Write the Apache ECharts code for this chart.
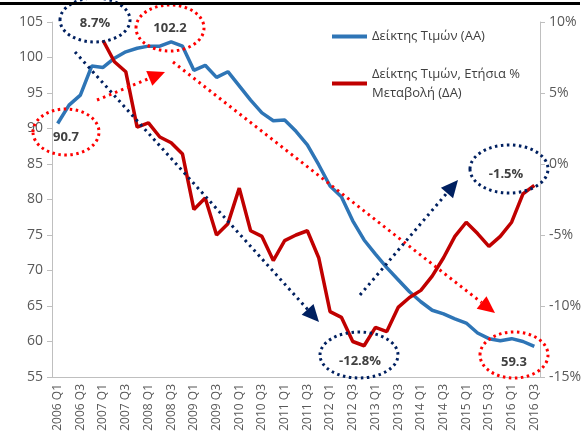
<!DOCTYPE html>
<html><head><meta charset="utf-8">
<script src="https://cdn.jsdelivr.net/npm/echarts@6/dist/echarts.min.js"></script>
<style>html,body{margin:0;padding:0;background:#fff}#c{width:587px;height:441px}</style>
</head><body><div id="c"></div>
<script>
const categories = [
  '2006 Q1','2006 Q2','2006 Q3','2006 Q4','2007 Q1','2007 Q2','2007 Q3','2007 Q4',
  '2008 Q1','2008 Q2','2008 Q3','2008 Q4','2009 Q1','2009 Q2','2009 Q3','2009 Q4',
  '2010 Q1','2010 Q2','2010 Q3','2010 Q4','2011 Q1','2011 Q2','2011 Q3','2011 Q4',
  '2012 Q1','2012 Q2','2012 Q3','2012 Q4','2013 Q1','2013 Q2','2013 Q3','2013 Q4',
  '2014 Q1','2014 Q2','2014 Q3','2014 Q4','2015 Q1','2015 Q2','2015 Q3','2015 Q4',
  '2016 Q1','2016 Q2','2016 Q3'
];
const priceIndex = [
  90.7, 93.3, 94.7, 98.8, 98.6, 99.9, 100.8, 101.3, 101.6, 101.6, 102.2, 101.6,
  98.2, 98.9, 97.2, 98.0, 96.0, 94.0, 92.2, 91.1, 91.2, 89.6, 87.7, 84.9,
  81.9, 80.4, 77.0, 74.3, 72.3, 70.4, 68.7, 67.0, 65.6, 64.4, 63.9, 63.2,
  62.6, 61.2, 60.4, 60.1, 60.4, 60.0, 59.3
];
const annualChange = [
  null, null, null, null,
  8.7, 7.2, 6.5, 2.6, 2.9, 1.9, 1.5, 0.7, -3.2, -2.4, -5.0, -4.2,
  -1.7, -4.7, -5.1, -6.8, -5.4, -5.0, -4.7, -6.6, -10.4, -10.8, -12.5, -12.8,
  -11.5, -11.8, -10.1, -9.4, -8.9, -7.9, -6.6, -5.1, -4.1, -4.9, -5.8, -5.1,
  -4.1, -2.1, -1.5
];
const leftTicks = {min: 55, max: 105, interval: 5};
const rightTicks = {min: -15, max: 10, interval: 5};
const NAME1 = 'Δείκτης Τιμών (ΑΑ)';
const NAME2 = 'Δείκτης Τιμών, Ετήσια % Μεταβολή (ΔΑ)';

const FONT = '"Open Sans", "Noto Sans", sans-serif';
const RED = '#FF0000', NAVY = '#002060', TXT = '#404040';

function ellipse(cx, cy, rx, ry, color) {
  return {type: 'ellipse', z: 50, shape: {cx, cy, rx, ry},
    style: {fill: 'none', stroke: color, lineWidth: 3, lineDash: [2.5, 3.5]}};
}
function label(x, y, text) {
  return {type: 'text', z: 51, x, y,
    style: {text, fill: TXT, font: 'bold 13px ' + FONT, align: 'center', verticalAlign: 'middle'}};
}
function arrow(x1, y1, x2, y2, color) {
  const dx = x2 - x1, dy = y2 - y1, L = Math.hypot(dx, dy), ux = dx / L, uy = dy / L;
  const hl = 17, hw = 8, bx = x2 - ux * hl, by = y2 - uy * hl, px = -uy, py = ux;
  return [
    {type: 'line', z: 49, shape: {x1, y1, x2: bx, y2: by},
      style: {stroke: color, lineWidth: 3, lineDash: [2.5, 4]}},
    {type: 'polygon', z: 49, shape: {points: [[x2, y2], [bx + px * hw, by + py * hw], [bx - px * hw, by - py * hw]]},
      style: {fill: color}}
  ];
}
const valid = annualChange.filter(v => v !== null);
const graphics = [
  {type: 'rect', z: 60, shape: {x: 0, y: 2, width: 580, height: 3}, style: {fill: '#000'}},
  ...arrow(75, 52, 319, 322, NAVY),
  ...arrow(97, 100, 165, 72, RED),
  ...arrow(173, 62, 495, 313, RED),
  ...arrow(360, 295, 458, 180, NAVY),
  ellipse(66, 132, 33, 23, RED), label(66, 137, priceIndex[0].toFixed(1)),
  ellipse(95, 20, 35, 22, NAVY), label(95, 23, valid[0].toFixed(1) + '%'),
  ellipse(170, 28, 34, 23, RED), label(170, 28, Math.max(...priceIndex).toFixed(1)),
  ellipse(509, 169, 39, 24, NAVY), label(506, 174, valid[valid.length - 1].toFixed(1) + '%'),
  ellipse(359, 355, 39, 23, NAVY), label(360, 361, Math.min(...valid).toFixed(1) + '%'),
  ellipse(514, 355, 34, 23, RED), label(514, 362, priceIndex[priceIndex.length - 1].toFixed(1))
];

const axisGray = '#bfbfbf', labGray = '#595959';
const chart = echarts.init(document.getElementById('c'));
chart.setOption({
  animation: false,
  textStyle: {fontFamily: FONT},
  grid: {left: 52, right: 47, top: 22, bottom: 64},
  legend: {
    orient: 'vertical', left: 327, top: 22, itemWidth: 35, itemHeight: 4, itemGap: 9, icon: 'rect',
    textStyle: {color: TXT, fontSize: 13, lineHeight: 19, fontFamily: FONT},
    data: [{name: NAME1}, {name: NAME2, textStyle: {padding: [19, 0, 0, 0]}}],
    formatter: n => n === NAME2 ? 'Δείκτης Τιμών, Ετήσια %\nΜεταβολή (ΔΑ)' : n
  },
  xAxis: {
    type: 'category', data: categories, boundaryGap: true,
    axisLine: {onZero: false, lineStyle: {color: axisGray, width: 1}},
    axisTick: {interval: 0, length: 5, lineStyle: {color: axisGray}},
    axisLabel: {interval: 1, rotate: 90, color: labGray, fontSize: 12, margin: 7, fontFamily: FONT}
  },
  yAxis: [
    {type: 'value', position: 'left', ...leftTicks,
      axisLine: {show: true, lineStyle: {color: axisGray}},
      axisTick: {show: true, length: 5, lineStyle: {color: axisGray}},
      splitLine: {show: false},
      axisLabel: {color: labGray, fontSize: 14, margin: 9, fontFamily: FONT}},
    {type: 'value', position: 'right', ...rightTicks,
      axisLine: {show: true, lineStyle: {color: axisGray}},
      axisTick: {show: true, length: 5, lineStyle: {color: axisGray}},
      splitLine: {show: false},
      axisLabel: {color: labGray, fontSize: 14, margin: 9, formatter: '{value}%', fontFamily: FONT}}
  ],
  series: [
    {name: NAME1, type: 'line', yAxisIndex: 0, data: priceIndex, symbol: 'none',
      lineStyle: {color: '#2E75B6', width: 3.5}, itemStyle: {color: '#2E75B6'}},
    {name: NAME2, type: 'line', yAxisIndex: 1, data: annualChange, symbol: 'none',
      lineStyle: {color: '#C00000', width: 3.5}, itemStyle: {color: '#C00000'}}
  ],
  graphic: graphics
});
</script>
</body></html>
